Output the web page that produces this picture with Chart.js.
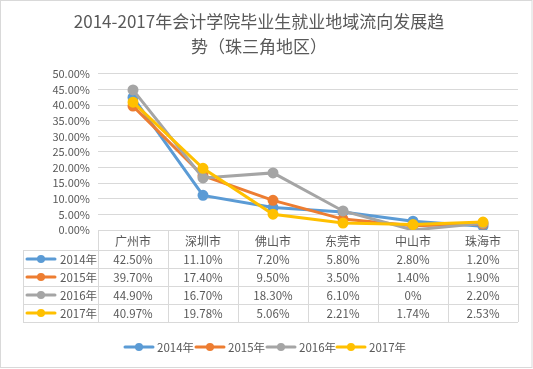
<!DOCTYPE html>
<html>
<head>
<meta charset="utf-8">
<script src="https://cdn.jsdelivr.net/npm/chart.js@4/dist/chart.umd.min.js"></script>
<style>
	html, body { margin: 0; padding: 0; background: #fff; }
	#wrap { position: relative; width: 533px; height: 369px; }
</style>
</head>
<body>
<div id="wrap"><canvas id="chart" width="533" height="369"></canvas></div>
<script>
const cities = ['广州市', '深圳市', '佛山市', '东莞市', '中山市', '珠海市'];
const years = ['2014年', '2015年', '2016年', '2017年'];
const v2014 = [42.50, 11.10, 7.20, 5.80, 2.80, 1.20];
const v2015 = [39.70, 17.40, 9.50, 3.50, 1.40, 1.90];
const v2016 = [44.90, 16.70, 18.30, 6.10, 0, 2.20];
const v2017 = [40.97, 19.78, 5.06, 2.21, 1.74, 2.53];
const colors = ['#5B9BD5', '#ED7D31', '#A5A5A5', '#FFC000'];
const yTicks = [0, 5, 10, 15, 20, 25, 30, 35, 40, 45, 50];

const TEXT = '#595959';
const GRID = '#d9d9d9';
const FONT = '"Noto Sans CJK SC", "Noto Sans", sans-serif';

function fmt(v) {
	return v === 0 ? '0%' : v.toFixed(2) + '%';
}

// data table + legend below the plot
const tablePlugin = {
	id: 'dataTable',
	afterDraw(chart) {
		const ctx = chart.ctx;
		const x = chart.scales.x;
		const area = chart.chartArea;
		const colW = (area.right - area.left) / cities.length;
		const top = area.bottom;
		const headH = 20, rowH = 18, keyLeft = 23;
		const bottom = top + headH + rowH * years.length;

		ctx.save();
		ctx.strokeStyle = GRID;
		ctx.lineWidth = 1;
		ctx.beginPath();
		ctx.moveTo(area.left, Math.round(top) + 0.5); ctx.lineTo(area.right, Math.round(top) + 0.5);
		for (let r = 0; r <= years.length; r++) {
			const y = Math.round(top + headH + rowH * r) + 0.5;
			ctx.moveTo(keyLeft, y); ctx.lineTo(area.right, y);
		}
		for (let c = 0; c <= cities.length; c++) {
			const cx = Math.round(area.left + colW * c) + 0.5;
			ctx.moveTo(cx, top); ctx.lineTo(cx, bottom);
		}
		ctx.moveTo(keyLeft + 0.5, top + headH); ctx.lineTo(keyLeft + 0.5, bottom);
		ctx.stroke();

		ctx.fillStyle = TEXT;
		ctx.textAlign = 'center';
		ctx.textBaseline = 'middle';
		ctx.font = '12px ' + FONT;
		cities.forEach((c, i) => ctx.fillText(c, x.getPixelForValue(i), top + headH / 2 + 1));

		ctx.font = '11.5px ' + FONT;
		chart.data.datasets.forEach((ds, r) => {
			const cy = top + headH + rowH * r + rowH / 2 + 1;
			ds.data.forEach((v, i) => {
				ctx.fillStyle = TEXT;
				ctx.textAlign = 'center';
				ctx.fillText(fmt(v), x.getPixelForValue(i), cy);
			});
			drawKey(ctx, keyLeft + 4, cy - 1, ds.borderColor);
			ctx.fillStyle = TEXT;
			ctx.textAlign = 'left';
			ctx.fillText(ds.label, keyLeft + 37, cy);
		});

		// bottom legend
		const ly = 347;
		const itemW = [71, 71, 70, 70];
		let lx = 125;
		chart.data.datasets.forEach((ds, i) => {
			drawKey(ctx, lx, ly, ds.borderColor);
			ctx.fillStyle = TEXT;
			ctx.textAlign = 'left';
			ctx.font = '11.5px ' + FONT;
			ctx.fillText(ds.label, lx + 32, ly + 1);
			lx += itemW[i];
		});

		// outer frame
		ctx.strokeStyle = GRID;
		ctx.strokeRect(0.5, 0.5, 531.5, 367);
		ctx.restore();
	}
};

function drawKey(ctx, x0, y, color) {
	ctx.save();
	ctx.strokeStyle = color;
	ctx.fillStyle = color;
	ctx.lineWidth = 3;
	ctx.lineCap = 'round';
	ctx.beginPath();
	ctx.moveTo(x0, y); ctx.lineTo(x0 + 28, y);
	ctx.stroke();
	ctx.beginPath();
	ctx.arc(x0 + 14, y, 4, 0, Math.PI * 2);
	ctx.fill();
	ctx.restore();
}

const series = [v2014, v2015, v2016, v2017];

new Chart(document.getElementById('chart'), {
	type: 'line',
	data: {
		labels: cities,
		datasets: series.map((d, i) => ({
			label: years[i],
			data: d,
			borderColor: colors[i],
			backgroundColor: colors[i],
			borderWidth: 3,
			pointRadius: 4,
			pointHoverRadius: 4,
			tension: 0,
			order: series.length - i
		}))
	},
	options: {
		responsive: false,
		animation: false,
		layout: { padding: { top: 9, right: 15, bottom: 0, left: 0 } },
		plugins: {
			legend: { display: false },
			tooltip: { enabled: false },
			title: {
				display: true,
				text: ['2014-2017年会计学院毕业生就业地域流向发展趋', '势（珠三角地区）'],
				color: TEXT,
				font: { family: FONT, size: 17, weight: 'normal', lineHeight: 1.47 },
				padding: { top: 0, bottom: 15 }
			}
		},
		scales: {
			x: {
				offset: true,
				grid: { display: false },
				border: { display: false },
				ticks: { display: false },
				afterFit(scale) { scale.height = 139; }
			},
			y: {
				min: 0,
				max: 50,
				afterBuildTicks(scale) { scale.ticks = yTicks.map(v => ({ value: v })); },
				afterFit(scale) { scale.width = 98; },
				grid: { color: GRID, drawTicks: false },
				border: { display: false },
				ticks: {
					color: TEXT,
					padding: 8,
					autoSkip: false,
					font: { family: FONT, size: 11 },
					callback: v => v.toFixed(2) + '%'
				}
			}
		}
	},
	plugins: [tablePlugin]
});
</script>
</body>
</html>
